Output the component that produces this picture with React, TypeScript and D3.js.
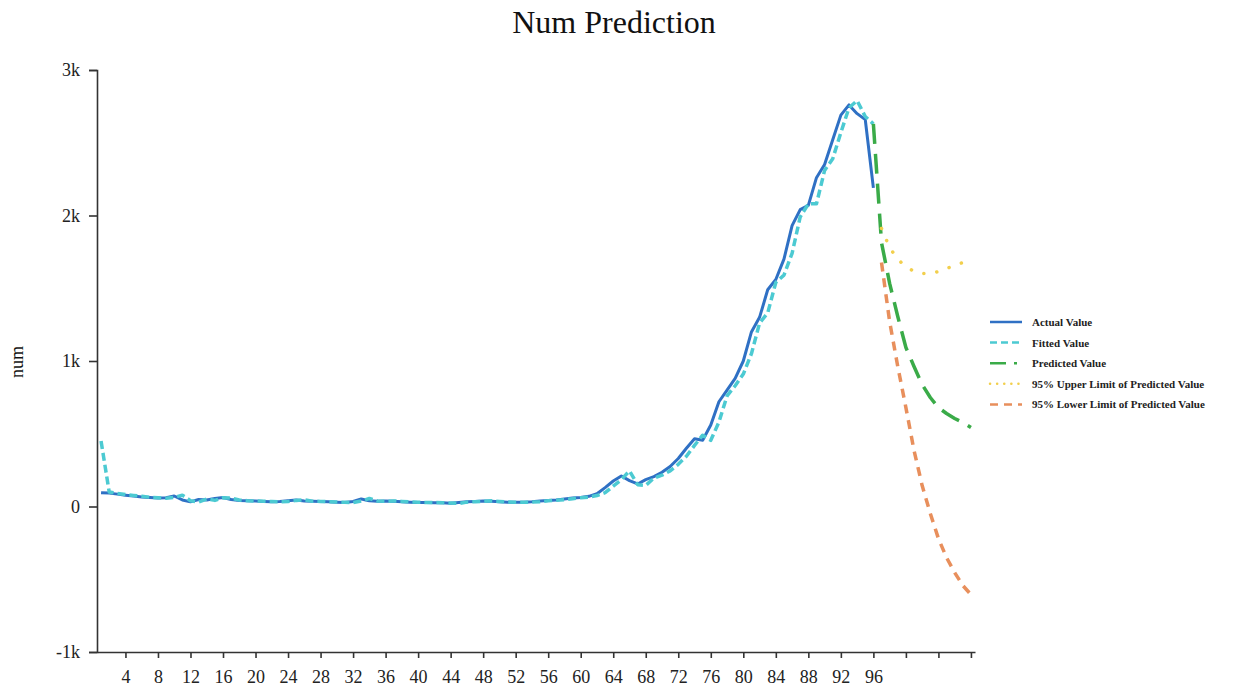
import React, { useEffect, useRef } from 'react';
import * as d3 from 'd3';

// observed values, periods 1..96
const actual = [
  95, 92, 85, 78, 72, 66, 62, 58, 60, 72, 45, 32, 48, 45, 55, 62, 48, 42, 40, 38,
  35, 33, 34, 40, 45, 38, 36, 34, 32, 30, 28, 35, 52, 40, 36, 38, 36, 33, 30, 28,
  27, 26, 25, 22, 28, 32, 35, 38, 36, 32, 30, 30, 30, 32, 38, 42, 45, 52, 58, 62,
  70, 88, 130, 175, 210, 178, 155, 185, 205, 235, 275, 330, 400, 465, 455, 560, 720, 800, 880, 1000,
  1200, 1300, 1490, 1560, 1700, 1930, 2040, 2070, 2260, 2350, 2520, 2690, 2760, 2700, 2660, 2190,
];

// fitted values, periods 1..96
const fitted = [
  450, 100, 90, 82, 76, 70, 64, 60, 56, 62, 78, 40, 30, 52, 42, 60, 58, 45, 40, 38,
  36, 34, 32, 34, 42, 46, 36, 35, 33, 31, 29, 27, 38, 55, 38, 35, 38, 35, 32, 29,
  28, 27, 26, 24, 21, 30, 33, 36, 39, 35, 31, 30, 29, 30, 33, 39, 43, 46, 54, 60,
  64, 75, 95, 140, 185, 245, 150, 145, 195, 215, 245, 290, 345, 420, 490, 455, 580, 760, 830, 910,
  1050, 1260, 1330, 1540, 1590, 1740, 1990, 2080, 2080, 2310, 2390, 2570, 2740, 2790, 2680, 2630,
];

// predicted values, periods 96..108
const predicted = [2630, 1814, 1533, 1306, 1093, 962, 838, 749, 680, 639, 605, 577, 543];
// 95% limits, periods 97..108
const upper = [1911, 1780, 1698, 1650, 1615, 1601, 1601, 1615, 1636, 1656, 1677, 1698];
const lower = [1677, 1271, 962, 680, 385, 144, -48, -220, -351, -454, -543, -605];

const xTicks = [4, 8, 12, 16, 20, 24, 28, 32, 36, 40, 44, 48, 52, 56, 60, 64, 68, 72, 76, 80, 84, 88, 92, 96, 100, 104, 108];
const yTicks = [-1000, 0, 1000, 2000, 3000];
const yTickLabels = ['-1k', '0', '1k', '2k', '3k'];

const series = [
  { name: 'Actual Value', start: 1, values: actual, color: '#2f70c4', dash: null, legendDash: null, width: 3, cap: 'butt' },
  { name: 'Fitted Value', start: 1, values: fitted, color: '#4ccad2', dash: '8,4', legendDash: '7,4', width: 3.5, cap: 'butt' },
  { name: 'Predicted Value', start: 96, values: predicted, color: '#3aab48', dash: '20,10', legendDash: '16,8,3,8', width: 3.5, cap: 'butt' },
  { name: '95% Upper Limit of Predicted Value', start: 97, values: upper, color: '#f2cf4c', dash: '0.1,13', legendDash: '0.1,7', width: 3.5, cap: 'round' },
  { name: '95% Lower Limit of Predicted Value', start: 97, values: lower, color: '#e88f5c', dash: '9,7', legendDash: '8,6', width: 3.5, cap: 'butt' },
];

const font = '"Liberation Serif", "Times New Roman", serif';

const App = () => {
  const ref = useRef<SVGSVGElement>(null);

  useEffect(() => {
    const svg = d3.select(ref.current);
    svg.selectAll('*').remove();

    const x = d3.scaleLinear().domain([0.5, 108.5]).range([97, 975]);
    const y = d3.scaleLinear().domain([-1000, 3000]).range([652, 70]);

    svg.append('rect').attr('width', 1237).attr('height', 691).attr('fill', '#fff');

    // title
    svg.append('text')
      .attr('x', 614)
      .attr('y', 33)
      .attr('text-anchor', 'middle')
      .style('font-family', font)
      .style('font-size', '32px')
      .attr('fill', '#111')
      .text('Num Prediction');

    // y axis label
    svg.append('text')
      .attr('transform', 'translate(23,362) rotate(-90)')
      .attr('text-anchor', 'middle')
      .style('font-family', font)
      .style('font-size', '18px')
      .attr('fill', '#111')
      .text('num');

    // axes
    const yAxis = svg.append('g')
      .attr('transform', 'translate(97,0)')
      .call(
        d3.axisLeft(y)
          .tickValues(yTicks)
          .tickSize(8)
          .tickPadding(9)
          .tickFormat((d, i) => yTickLabels[i])
      );
    const xAxis = svg.append('g')
      .attr('transform', 'translate(0,652)')
      .call(
        d3.axisBottom(x)
          .tickValues(xTicks)
          .tickSizeInner(6)
          .tickSizeOuter(0)
          .tickPadding(12)
          .tickFormat(d => (+d <= 96 ? String(d) : ''))
      );
    [xAxis, yAxis].forEach(a => {
      a.select('.domain').attr('stroke', '#333').attr('stroke-width', 1.6);
      a.selectAll('.tick line').attr('stroke', '#333').attr('stroke-width', 1.6);
      a.selectAll('.tick text')
        .style('font-family', font)
        .style('font-size', '18px')
        .attr('fill', '#222');
    });

    const line = d3.line<number>().curve(d3.curveLinear);

    series.forEach(s => {
      line.x((d, i) => x(s.start + i)).y(d => y(d));
      svg.append('path')
        .datum(s.values)
        .attr('fill', 'none')
        .attr('stroke', s.color)
        .attr('stroke-width', s.width)
        .attr('stroke-linecap', s.cap)
        .attr('stroke-linejoin', 'round')
        .attr('stroke-dasharray', s.dash)
        .attr('d', line);
    });

    // legend
    const legend = svg.append('g').attr('transform', 'translate(990,322)');
    series.forEach((s, i) => {
      const row = legend.append('g').attr('transform', `translate(0,${i * 20.6})`);
      row.append('line')
        .attr('x1', 0)
        .attr('x2', 32)
        .attr('stroke', s.color)
        .attr('stroke-width', 2.5)
        .attr('stroke-linecap', s.cap)
        .attr('stroke-dasharray', s.legendDash);
      row.append('text')
        .attr('x', 42)
        .attr('y', 4)
        .style('font-family', font)
        .style('font-size', '11px')
        .style('font-weight', 'bold')
        .attr('fill', '#222')
        .text(s.name);
    });
  }, []);

  return (
    <svg
      ref={ref}
      width={1237}
      height={691}
      style={{ position: 'absolute', left: 0, top: 0, display: 'block' }}
    />
  );
};

export default App;
